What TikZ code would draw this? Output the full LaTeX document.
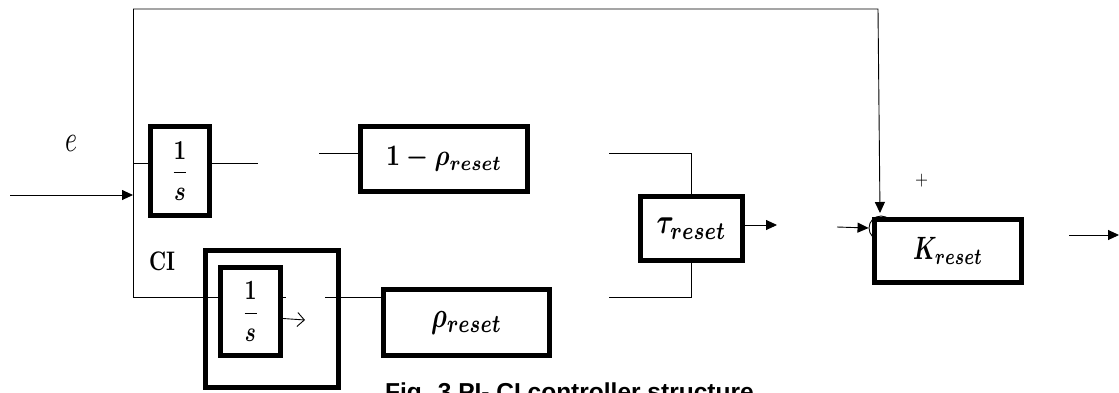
\documentclass[tikz,border=0pt]{standalone}
\usepackage{amsmath}
\usepackage{fontspec}
\newfontfamily\capfont{Liberation Sans}
\usetikzlibrary{arrows.meta}
\begin{document}
\begin{tikzpicture}[x=1pt,y=-1pt,
  blk/.style={draw,line width=4.5pt,fill=white,inner sep=0pt,rectangle,font=\boldmath},
  wire/.style={line width=0.9pt},
  sarrow/.style={wire,-{Triangle[length=11pt,width=10pt]}},
  oarrow/.style={wire,-{Straight Barb[length=7pt,width=14pt]}}]
\useasboundingbox (0,0) rectangle (1119,392);

% blocks
\node[blk,minimum width=59pt,minimum height=89pt] (A) at (180,171)
  {\resizebox*{18pt}{59pt}{$\dfrac{\mathbf{1}}{\boldsymbol{s}}$}};
\node[blk,minimum width=133pt,minimum height=137pt] (CIo) at (272,319) {};
\node[blk,minimum width=60pt,minimum height=88pt] (Cin) at (250.5,311.5)
  {\resizebox*{17pt}{60pt}{$\dfrac{\mathbf{1}}{\boldsymbol{s}}$}};
\node[blk,minimum width=167pt,minimum height=65pt] (B) at (444,159)
  {\raisebox{3pt}{\resizebox*{116pt}{25pt}{$1-\rho_{reset}$}}};
\node[blk,minimum width=166pt,minimum height=66pt] (R) at (466.5,322.5)
  {\resizebox*{71pt}{23pt}{$\rho_{reset}$}};
\node[blk,minimum width=102pt,minimum height=64pt] (T) at (691.5,228.5)
  {\resizebox*{70pt}{21pt}{$\tau_{reset}$}};
\node[draw,circle,wire,minimum size=24pt,inner sep=0pt] (S) at (881,228) {};
\node[blk,minimum width=147pt,minimum height=63pt] (K) at (948,251)
  {\resizebox*{70pt}{27pt}{$K_{reset}$}};

% labels
\node[inner sep=0pt] (e) at (71,143) {\resizebox*{12pt}{16pt}{$e$}};
\node[inner sep=0pt] (ci) at (162,261) {\resizebox*{26pt}{19pt}{\bfseries CI}};
\node[inner sep=0pt] (plus) at (921.5,181) {\resizebox*{13pt}{13pt}{$+$}};
\node[anchor=base west,inner sep=0pt] (cap) at (385,400.5)
  {\capfont\bfseries\fontsize{24.5}{26}\selectfont Fig. 3 PI- CI controller structure};

% coordinates
\coordinate (in) at (10,195);
\coordinate (j) at (133,195);
\coordinate (tl) at (133,9);
\coordinate (tr) at (878,9);
\coordinate (bl) at (133,297);
\coordinate (aw) at (133,163);
\coordinate (ae) at (258,163);
\coordinate (bw) at (319,153);
\coordinate (cw) at (325,297);
\coordinate (ou) at (609,153);
\coordinate (od) at (609,297);
\coordinate (ta) at (777,225);
\coordinate (ks) at (837,227);
\coordinate (ko) at (1069,235);
\coordinate (kout) at (1119,235);
\coordinate (ktop) at (880,213);

% connectors
\draw[sarrow] (in) -- (j);
\draw[wire] (tl) -- (bl);
\draw[sarrow] (tl) -- (tr) -- (ktop);
\draw[wire] (aw) -- (148,163);
\draw[wire] (211.8,163) -- (ae);
\draw[wire] (bw) -- (358.3,153);
\draw[wire] (bl) -- (218.3,297);
\draw[wire] (283,297) -- (286,297);
\draw[oarrow] (283,318.5) -- (305,320);
\draw[wire] (cw) -- (381.3,297);
\draw[wire] (ou) -| (T.north);
\draw[wire] (od) -| (T.south);
\draw[sarrow] (744.8,225) -- (ta);
\draw[sarrow] (ks) -- (S.west);
\draw[sarrow] (ko) -- (kout);
\end{tikzpicture}
\end{document}
